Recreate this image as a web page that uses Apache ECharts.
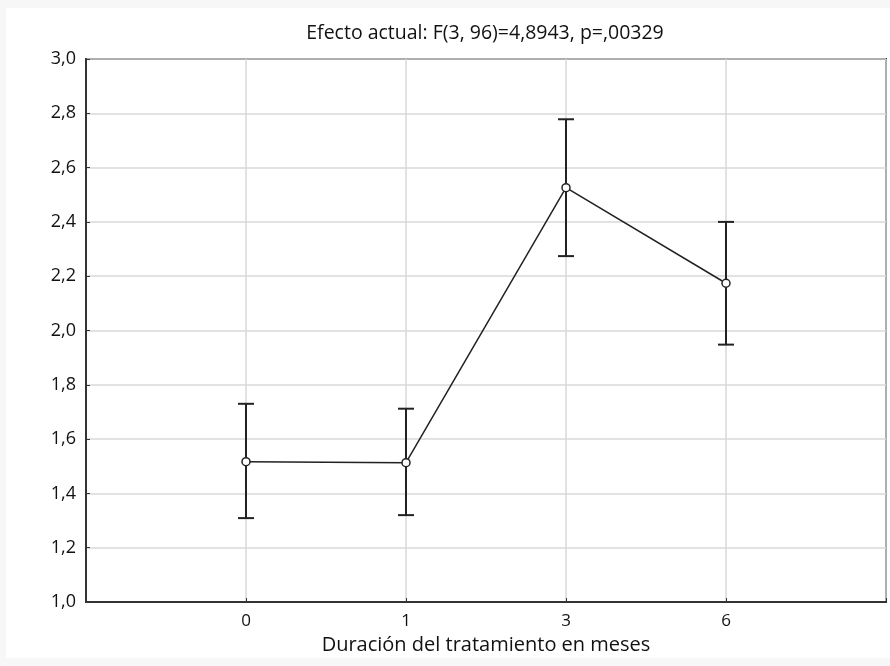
<!DOCTYPE html>
<html>
<head>
<meta charset="utf-8">
<script src="https://cdn.jsdelivr.net/npm/echarts@6/dist/echarts.min.js"></script>
<style>html,body{margin:0;padding:0;background:#f7f7f7;}#c{width:890px;height:666px;}</style>
</head>
<body>
<div id="c"></div>
<script>
var categories = ['0', '1', '3', '6'];
var means = [1.517, 1.513, 2.526, 2.174];
var upper = [1.730, 1.712, 2.778, 2.400];
var lower = [1.309, 1.320, 2.274, 1.948];
var yTicks = [1.0, 1.2, 1.4, 1.6, 1.8, 2.0, 2.2, 2.4, 2.6, 2.8, 3.0];

var chart = echarts.init(document.getElementById('c'), null, {renderer: 'canvas'});
var font = '"Open Sans", "Noto Sans", sans-serif';
var lineData = means.map(function (v, i) { return [i, v]; });
var errData = means.map(function (v, i) { return [i, lower[i], upper[i]]; });

chart.setOption({
  backgroundColor: '#f7f7f7',
  animation: false,
  graphic: [{
    type: 'rect', left: 6, top: 8, z: -10,
    shape: {width: 884, height: 650},
    style: {fill: '#ffffff'}
  }],
  title: {
    text: 'Efecto actual: F(3, 96)=4,8943, p=,00329',
    left: 480, top: 18, textAlign: 'center',
    textStyle: {fontFamily: font, fontSize: 19.5, fontWeight: 'normal', color: '#111'}
  },
  grid: {left: 86, right: 4, top: 59, bottom: 64, show: true, borderColor: '#333', borderWidth: 2, backgroundColor: '#fff'},
  xAxis: {
    type: 'value', min: -1, max: 4, interval: 1,
    name: 'Duración del tratamiento en meses',
    nameLocation: 'middle', nameGap: 33,
    nameTextStyle: {fontFamily: font, fontSize: 20, color: '#111'},
    axisLine: {show: true, onZero: false, lineStyle: {color: '#333', width: 2}},
    axisTick: {show: true, inside: true, length: 4, lineStyle: {color: '#333'}},
    axisLabel: {
      fontFamily: font, fontSize: 17, color: '#111', margin: 11,
      formatter: function (v) { return (v >= 0 && v < categories.length) ? categories[v] : ''; }
    },
    splitLine: {show: true, lineStyle: {color: '#d8d8d8', width: 1.5}}
  },
  yAxis: {
    type: 'value', min: 1.0, max: 3.0, interval: 0.2,
    axisLine: {show: true, onZero: false, lineStyle: {color: '#333', width: 2}},
    axisTick: {show: true, inside: true, length: 4, lineStyle: {color: '#333'}},
    axisLabel: {
      fontFamily: font, fontSize: 18, color: '#111', margin: 10,
      formatter: function (v) {
        var t = yTicks.reduce(function (a, b) { return Math.abs(b - v) < Math.abs(a - v) ? b : a; });
        return t.toFixed(1).replace('.', ',');
      }
    },
    splitLine: {show: true, lineStyle: {color: '#d8d8d8', width: 1.5}}
  },
  series: [
    {
      type: 'custom',
      data: errData,
      z: 3,
      renderItem: function (params, api) {
        var x = api.value(0);
        var lo = api.coord([x, api.value(1)]);
        var hi = api.coord([x, api.value(2)]);
        var w = 8;
        var st = {stroke: '#222', lineWidth: 2};
        return {
          type: 'group',
          children: [
            {type: 'line', shape: {x1: lo[0], y1: lo[1], x2: hi[0], y2: hi[1]}, style: st},
            {type: 'line', shape: {x1: lo[0] - w, y1: lo[1], x2: lo[0] + w, y2: lo[1]}, style: st},
            {type: 'line', shape: {x1: hi[0] - w, y1: hi[1], x2: hi[0] + w, y2: hi[1]}, style: st}
          ]
        };
      }
    },
    {
      type: 'line',
      data: lineData,
      z: 4,
      symbol: 'circle',
      symbolSize: 8,
      itemStyle: {color: '#fff', borderColor: '#222', borderWidth: 1.5},
      lineStyle: {color: '#222', width: 1.5}
    }
  ]
});
</script>
</body>
</html>
